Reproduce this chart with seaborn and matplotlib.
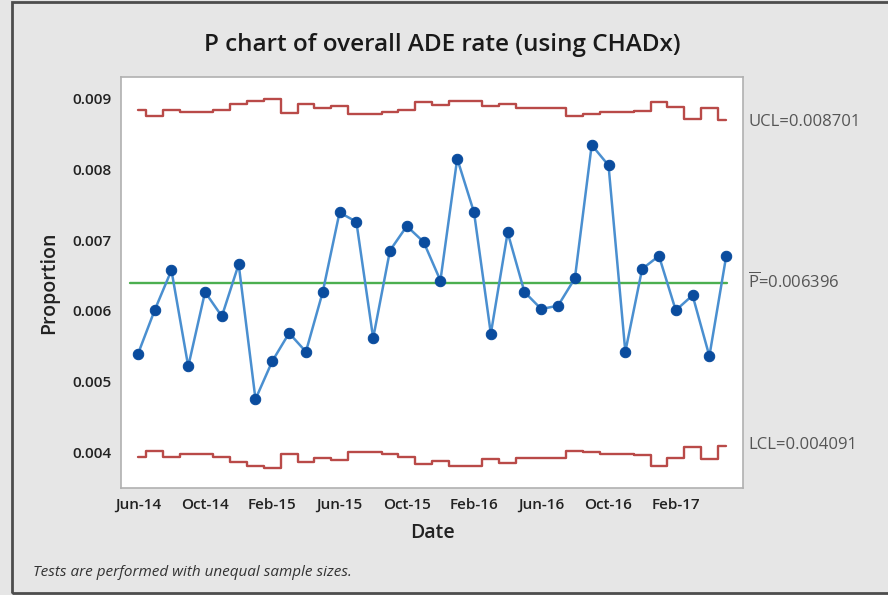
import matplotlib
matplotlib.use('Agg')
import matplotlib.pyplot as plt
import matplotlib.patches as mpatches
import pandas as pd
import seaborn as sns

# Monthly proportions Jun-14 .. May-17
proportion = [0.005385, 0.006009, 0.006576, 0.005215, 0.006268, 0.005924, 0.006661, 0.004751,
              0.005290, 0.005687, 0.005423, 0.006268, 0.007394, 0.007261, 0.005616, 0.006855,
              0.007200, 0.006977, 0.006430, 0.008154, 0.007394, 0.005678, 0.007110, 0.006268,
              0.006027, 0.006075, 0.006462, 0.008348, 0.008060, 0.005423, 0.006594, 0.006779,
              0.006009, 0.006221, 0.005361, 0.006774]
ucl = [0.00885, 0.00876, 0.00885, 0.00881, 0.00882, 0.00884, 0.00893, 0.00897,
       0.00900, 0.00880, 0.00893, 0.00887, 0.00890, 0.00878, 0.00878, 0.00881,
       0.00884, 0.00895, 0.00891, 0.00897, 0.00897, 0.00890, 0.00893, 0.00887,
       0.00887, 0.00887, 0.00876, 0.00878, 0.00881, 0.00881, 0.00883, 0.00895,
       0.00888, 0.00872, 0.00887, 0.008701]
lcl = [0.00394, 0.00402, 0.00394, 0.00398, 0.00397, 0.00394, 0.00386, 0.00381,
       0.00378, 0.00398, 0.00386, 0.00392, 0.00389, 0.00401, 0.00401, 0.00398,
       0.00394, 0.00384, 0.00388, 0.00380, 0.00380, 0.00390, 0.00385, 0.00392,
       0.00392, 0.00392, 0.00402, 0.00401, 0.00398, 0.00398, 0.00396, 0.00381,
       0.00392, 0.00407, 0.00391, 0.004091]
p_bar = 0.006396
tick_labels = ['Jun-14', 'Oct-14', 'Feb-15', 'Jun-15', 'Oct-15', 'Feb-16', 'Jun-16', 'Oct-16', 'Feb-17']

df = pd.DataFrame({'month': range(len(proportion)), 'p': proportion, 'ucl': ucl, 'lcl': lcl})

sns.set_style('white')
plt.rcParams['font.family'] = ['Open Sans', 'DejaVu Sans']
plt.rcParams['mathtext.fontset'] = 'custom'
plt.rcParams['mathtext.rm'] = 'Open Sans'

bg = '#e6e6e6'
fig = plt.figure(figsize=(8.88, 5.95), dpi=100, facecolor=bg)
ax = fig.add_axes([121 / 888, 1 - 488 / 595, 622 / 888, 411 / 595])
ax.set_facecolor('white')

# outer frame
fig.patches.append(mpatches.Rectangle((12 / 888, 2 / 595), 1.1, 591 / 595, transform=fig.transFigure,
                                      fill=False, edgecolor='#4d4d4d', linewidth=2))

red = '#b94a48'
sns.lineplot(data=df, x='month', y='ucl', ax=ax, color=red, linewidth=1.7, drawstyle='steps-mid')
sns.lineplot(data=df, x='month', y='lcl', ax=ax, color=red, linewidth=1.7, drawstyle='steps-mid')
ax.axhline(p_bar, xmin=(-0.45 + 1) / 37, xmax=(35.05 + 1) / 37, color='#4caf50', linewidth=1.7)
sns.lineplot(data=df, x='month', y='p', ax=ax, color='#4a8fd0', linewidth=1.8,
             marker='o', markersize=7.5, markerfacecolor='#0a4c9e', markeredgecolor='#0a4c9e')

ax.set_xlim(-1, 36)
ax.set_ylim(0.003495, 0.00931)
ax.set_xticks(range(0, len(proportion), 4))
ax.set_xticklabels(tick_labels)
ax.set_yticks([0.004, 0.005, 0.006, 0.007, 0.008, 0.009])
ax.set_yticklabels(['0.004', '0.005', '0.006', '0.007', '0.008', '0.009'])
ax.tick_params(axis='both', direction='out', length=3, width=0.8, color='#9a9a9a',
               labelsize=11, labelcolor='#222222', pad=4)
for lab in ax.get_xticklabels() + ax.get_yticklabels():
    lab.set_fontweight('semibold')
for s in ax.spines.values():
    s.set_color('#b0b0b0')
    s.set_linewidth(1.2)

ax.set_xlabel('Date', fontsize=14, fontweight='semibold', color='#222222', labelpad=8)
ax.set_ylabel('Proportion', fontsize=14, fontweight='semibold', color='#222222', labelpad=9)

fig.text(442 / 888, 1 - 45 / 595, 'P chart of overall ADE rate (using CHADx)', ha='center', va='center',
         fontsize=17.5, fontweight='semibold', color='#1a1a1a')

lab_kw = dict(fontsize=12, color='#555555', va='center', ha='left')
fig.text(748 / 888, 1 - 122 / 595, 'UCL=0.008701', **lab_kw)
fig.text(748 / 888, 1 - 282 / 595, r'$\overline{\mathrm{P}}$=0.006396', **lab_kw)
fig.text(748 / 888, 1 - 445 / 595, 'LCL=0.004091', **lab_kw)

fig.text(33 / 888, 1 - 572 / 595, 'Tests are performed with unequal sample sizes.', fontsize=11,
         fontstyle='italic', color='#333333', va='center', ha='left')

fig.savefig('out.png', dpi=100, facecolor=bg)
